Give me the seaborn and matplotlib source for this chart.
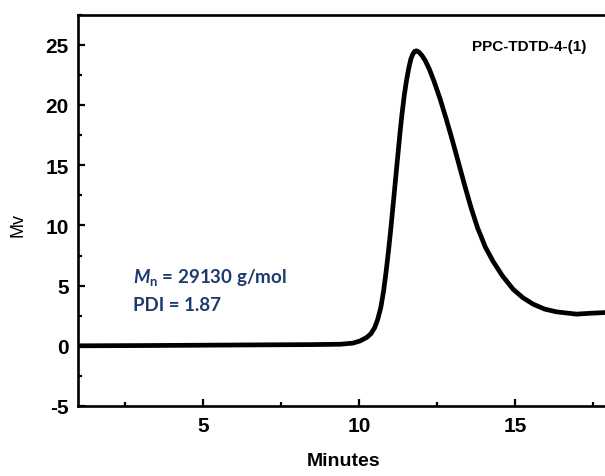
import matplotlib
matplotlib.use('Agg')
import matplotlib.pyplot as plt
import numpy as np
import pandas as pd
import seaborn as sns
from matplotlib.ticker import MultipleLocator

# GPC trace
minutes = [1.0, 3.0, 5.0, 7.0, 8.5, 9.4, 9.8, 10.03, 10.25, 10.38, 10.5, 10.6,
           10.7, 10.79, 10.87, 10.95, 11.03, 11.1, 11.17, 11.24, 11.31, 11.38,
           11.45, 11.52, 11.59, 11.66, 11.72, 11.78, 11.84, 11.92, 12.02, 12.12,
           12.25, 12.4, 12.6, 12.8, 13.0, 13.2, 13.4, 13.6, 13.8, 14.05, 14.3,
           14.6, 14.94, 15.25, 15.58, 15.95, 16.33, 16.97, 17.4, 17.95]
mv = [0.0, 0.02, 0.05, 0.08, 0.1, 0.13, 0.22, 0.4, 0.7, 1.0, 1.5, 2.2,
      3.2, 4.6, 6.2, 8.0, 10.0, 11.9, 13.8, 15.7, 17.6, 19.3,
      20.8, 22.0, 23.0, 23.8, 24.2, 24.45, 24.5, 24.4, 24.1, 23.7,
      23.0, 22.0, 20.5, 18.8, 17.0, 15.1, 13.2, 11.4, 9.8, 8.2, 7.0,
      5.8, 4.7, 4.0, 3.46, 3.05, 2.82, 2.63, 2.7, 2.77]

x_major = [5, 10, 15]
y_major = [-5, 0, 5, 10, 15, 20, 25]
sample_name = 'PPC-TDTD-4-(1)'
mn_text = r'$\mathit{M}_\mathrm{n}$ = 29130 g/mol'
pdi_text = 'PDI = 1.87'

sns.set_style('ticks')
plt.rcParams['font.family'] = ['Liberation Sans', 'DejaVu Sans']
plt.rcParams['axes.unicode_minus'] = False
plt.rcParams['text.color'] = 'black'
plt.rcParams['axes.labelcolor'] = 'black'
plt.rcParams['xtick.color'] = 'black'
plt.rcParams['ytick.color'] = 'black'
plt.rcParams['mathtext.fontset'] = 'custom'
plt.rcParams['mathtext.it'] = 'Lato:italic:bold'
plt.rcParams['mathtext.rm'] = 'Lato:bold'
plt.rcParams['mathtext.bf'] = 'Lato:bold'

df = pd.DataFrame({'Minutes': minutes, 'Mv': mv})

fig = plt.figure(figsize=(6.05, 4.77), dpi=100)
ax = fig.add_axes([78.3 / 605, 70 / 477, (607 - 78.3) / 605, (407 - 15.7) / 477])

sns.lineplot(data=df, x='Minutes', y='Mv', ax=ax, color='black',
             linewidth=3.4, sort=False, estimator=None)

ax.set_xlim(1, 17.95)
ax.set_ylim(-5, 27.5)
ax.set_xticks(x_major)
ax.set_yticks(y_major)
ax.xaxis.set_minor_locator(MultipleLocator(2.5))
ax.yaxis.set_minor_locator(MultipleLocator(2.5))
ax.tick_params(which='major', direction='in', length=5, width=1.6,
               labelsize=15, pad=7)
ax.tick_params(which='minor', direction='in', length=3, width=1.6)
ax.tick_params(axis='x', which='both', top=False)
ax.tick_params(axis='y', which='both', right=False)
for lab in ax.get_xticklabels() + ax.get_yticklabels():
    lab.set_fontweight('bold')
for side in ['left', 'bottom', 'top', 'right']:
    ax.spines[side].set_linewidth(1.9)
    ax.spines[side].set_color('black')

ax.set_xlabel('')
ax.set_ylabel('')
fig.text(344 / 605, 1 - 462 / 477, 'Minutes', ha='center', va='center',
         fontsize=14, fontweight='bold')
fig.text(18 / 605, 1 - 225 / 477, 'Mv', ha='center', va='center',
         fontsize=13, rotation=90)

ax.text(0.8525, 0.92, sample_name, transform=ax.transAxes, ha='center',
        va='center', fontsize=11, fontweight='bold')
navy = '#1f3a6e'
ax.text(0.1035, 0.33, mn_text, transform=ax.transAxes, ha='left', va='center',
        fontsize=13.5, color=navy, family='Lato', fontweight='bold')
ax.text(0.1035, 0.26, pdi_text, transform=ax.transAxes, ha='left', va='center',
        fontsize=13.5, color=navy, family='Lato', fontweight='bold')

fig.savefig('out.png', dpi=100)
